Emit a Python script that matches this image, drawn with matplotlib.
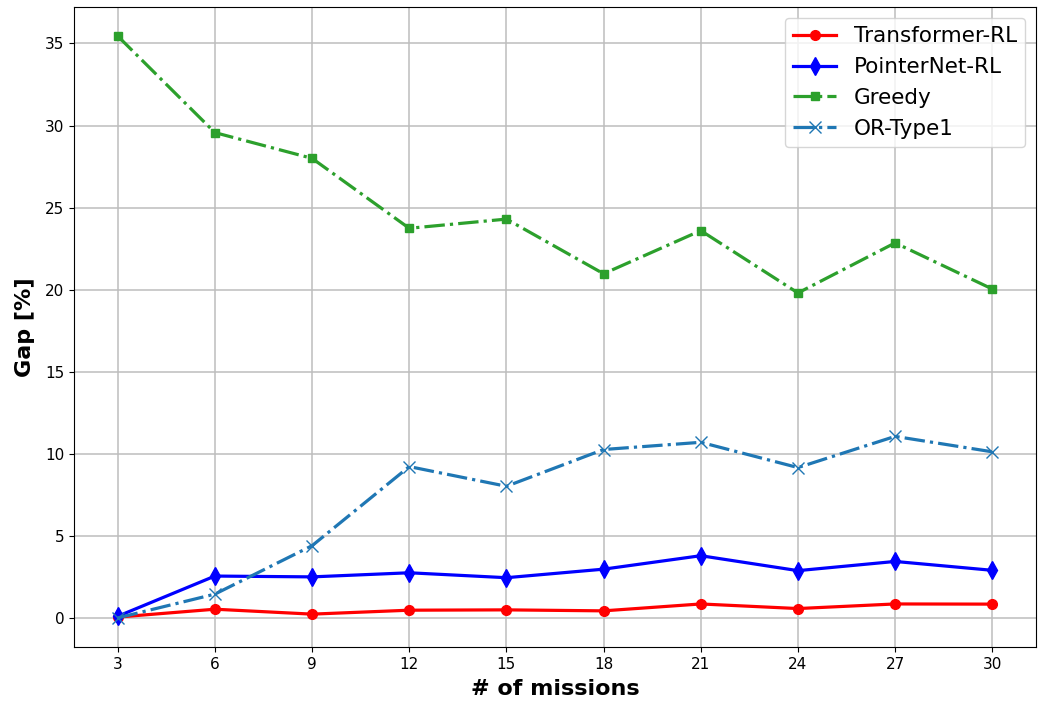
import matplotlib
matplotlib.use('Agg')
import matplotlib.pyplot as plt

missions = [3, 6, 9, 12, 15, 18, 21, 24, 27, 30]

transformer_rl = [0.05, 0.53, 0.23, 0.47, 0.49, 0.43, 0.85, 0.57, 0.85, 0.84]
pointernet_rl = [0.1, 2.55, 2.5, 2.75, 2.45, 2.97, 3.79, 2.88, 3.44, 2.9]
greedy = [35.45, 29.57, 28.0, 23.74, 24.3, 20.97, 23.6, 19.8, 22.85, 20.04]
or_type1 = [0.0, 1.45, 4.4, 9.22, 8.02, 10.26, 10.7, 9.16, 11.06, 10.12]

fig = plt.figure(figsize=(10.47, 7.03), dpi=100)
ax = fig.add_axes([74 / 1047, 1 - 647 / 703, 962 / 1047, 640 / 703])

ax.plot(missions, transformer_rl, '-o', color='red', lw=2.3, ms=7, label='Transformer-RL')
ax.plot(missions, pointernet_rl, '-d', color='blue', lw=2.3, ms=9, label='PointerNet-RL')
ax.plot(missions, greedy, '-.s', color='tab:green', lw=2.3, ms=6, label='Greedy')
ax.plot(missions, or_type1, '-.x', color='tab:blue', lw=2.3, ms=9, label='OR-Type1')

ax.set_xticks(missions)
ax.tick_params(labelsize=11)
ax.set_xlabel('# of missions', fontsize=16, fontweight='bold', labelpad=5)
ax.set_ylabel('Gap [%]', fontsize=16, fontweight='bold', labelpad=7)
ax.grid(True, color='#bdbdbd', lw=1.1)
ax.legend(loc='upper right', fontsize=15.5)

fig.savefig('out.png')
